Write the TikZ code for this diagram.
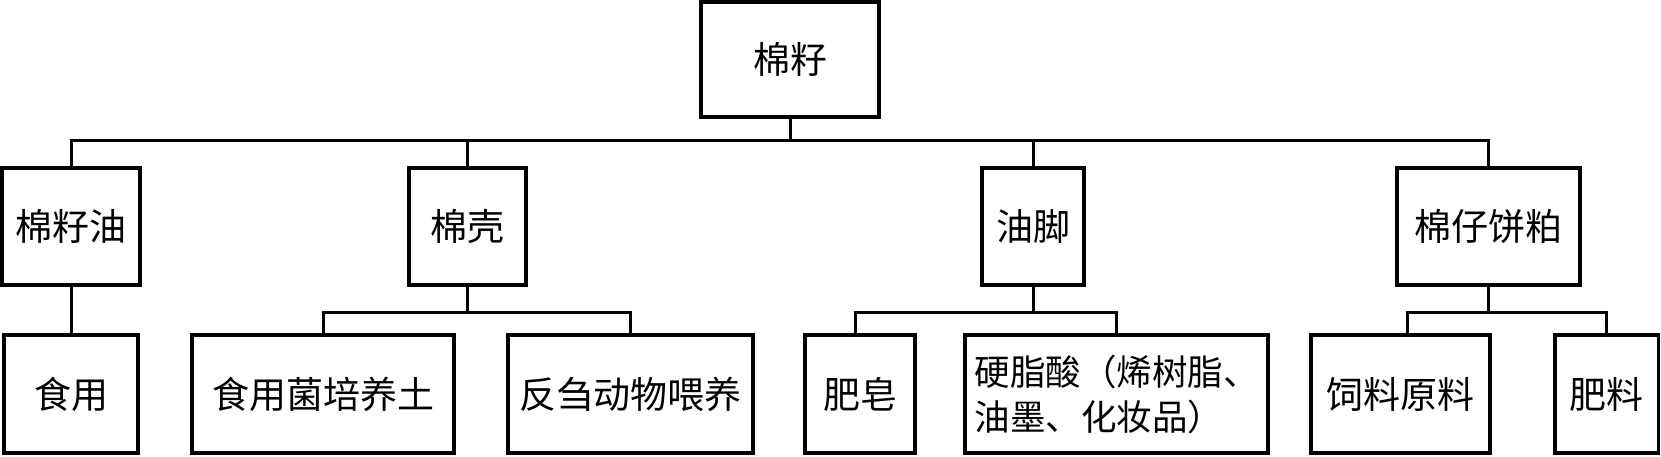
\documentclass[tikz,border=0pt]{standalone}
\usepackage{fontspec}
\setmainfont{Noto Sans CJK SC}
\begin{document}
\begin{tikzpicture}[x=1pt,y=-1pt,
  box/.style={draw=black, line width=3.4pt, inner sep=0pt, align=center,
    font=\fontsize{37}{45}\selectfont},
  conn/.style={draw=black, line width=3pt}]
\useasboundingbox (0,0) rectangle (1661,456);
% top
\node[box, minimum width=178pt, minimum height=115pt] (root) at (790,59.5) {棉籽};
% level 1
\node[box, minimum width=138pt, minimum height=117pt] (A) at (71,226.5) {棉籽油};
\node[box, minimum width=117pt, minimum height=117pt] (B) at (467.5,226.5) {棉壳};
\node[box, minimum width=102pt, minimum height=117pt] (C) at (1033,226.5) {油脚};
\node[box, minimum width=183pt, minimum height=117pt] (D) at (1488.5,226.5) {棉仔饼粕};
% level 2
\node[box, minimum width=134pt, minimum height=118pt] (a1) at (71,394) {食用};
\node[box, minimum width=262pt, minimum height=118pt] (b1) at (323,394) {食用菌培养土};
\node[box, minimum width=245pt, minimum height=118pt] (b2) at (630.5,394) {反刍动物喂养};
\node[box, minimum width=110pt, minimum height=118pt] (c1) at (860,394) {肥皂};
\node[box, minimum width=303pt, minimum height=118pt, align=left,
  font=\fontsize{35.5}{45}\selectfont] (c2) at (1116.5,394) {硬脂酸（烯树脂、\\油墨、化妆品）};
\node[box, minimum width=179pt, minimum height=118pt] (d1) at (1400.5,394) {饲料原料};
\node[box, minimum width=103.5pt, minimum height=118pt] (d2) at (1606.75,394) {肥料};
% bus coordinates
\coordinate (bus) at (0,140);
\coordinate (subbus) at (0,312);
% connectors level 0 -> 1
\draw[conn] (root.south) -- (root.south |- bus);
\draw[conn] (A.north) -- (A.north |- bus) -- (D.north |- bus) -- (D.north);
\draw[conn] (B.north) -- (B.north |- bus);
\draw[conn] (C.north) -- (C.north |- bus);
% level 1 -> 2
\draw[conn] (A.south) -- (a1.north);
\draw[conn] (B.south) -- (B.south |- subbus);
\draw[conn] (b1.north) -- (b1.north |- subbus) -- (b2.north |- subbus) -- (b2.north);
\draw[conn] (C.south) -- (C.south |- subbus);
\draw[conn] ([xshift=-5pt]c1.north) -- ([xshift=-5pt]c1.north |- subbus) -- (c2.north |- subbus) -- (c2.north);
\draw[conn] (D.south) -- (D.south |- subbus);
\draw[conn] ([xshift=7pt]d1.north) -- ([xshift=7pt]d1.north |- subbus) -- (d2.north |- subbus) -- (d2.north);
\end{tikzpicture}
\end{document}
